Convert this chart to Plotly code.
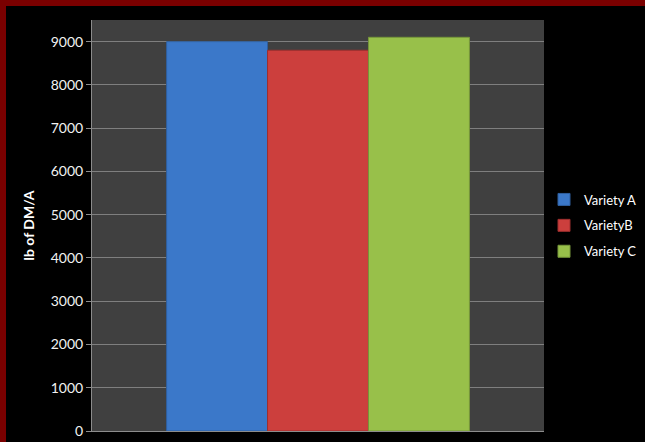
import plotly.graph_objects as go

# ---- data ----
series_names = ["Variety A", "VarietyB", "Variety C"]
series_values = [9000, 8800, 9100]
series_colors = ["#3b78c9", "#cc3f3d", "#98c04a"]
edge_colors = ["#2f5f9e", "#9e2f2e", "#76963a"]
y_ticks = [0, 1000, 2000, 3000, 4000, 5000, 6000, 7000, 8000, 9000]
y_title = "lb of DM/A"

W, H = 645, 442
ML, MR, MT, MB = 92, 101, 20, 11
PW = W - ML - MR
PH = H - MT - MB

fig = go.Figure()
for i, (name, val) in enumerate(zip(series_names, series_values)):
    fig.add_trace(go.Bar(
        x=[0], y=[val], name=name,
        legendgroup=name,
        marker=dict(color=series_colors[i], line=dict(color=edge_colors[i], width=1)),
    ))

def px_x(p):
    return (p - ML) / PW

def px_y(p):
    return (H - MB - p) / PH

red = "#7a0000"
shapes = [
    dict(type="rect", xref="paper", yref="paper",
         x0=px_x(0), x1=px_x(6), y0=px_y(H), y1=px_y(0),
         fillcolor=red, line=dict(width=0), layer="below"),
    dict(type="rect", xref="paper", yref="paper",
         x0=px_x(0), x1=px_x(W), y0=px_y(6), y1=px_y(0),
         fillcolor=red, line=dict(width=0), layer="below"),
]

fig.update_layout(
    width=W, height=H,
    margin=dict(l=ML, r=MR, t=MT, b=MB, pad=0, autoexpand=False),
    paper_bgcolor="#000000",
    plot_bgcolor="#404040",
    barmode="group", bargap=0.33, bargroupgap=0,
    font=dict(family="Lato, Open Sans, sans-serif", color="#f2f2f2", size=13),
    shapes=shapes,
    showlegend=True,
    legend=dict(x=1.0, xanchor="left", y=0.5, yanchor="middle",
                traceorder="grouped", tracegroupgap=6,
                font=dict(size=13, color="#ffffff"),
                bgcolor="rgba(0,0,0,0)", itemwidth=30),
    xaxis=dict(showticklabels=False, showgrid=False, zeroline=False,
               showline=True, linecolor="#8c8c8c", linewidth=1,
               range=[-0.5, 0.5], fixedrange=True, automargin=False),
    yaxis=dict(range=[0, 9500], tickvals=y_ticks, automargin=False,
               showgrid=True, gridcolor="#7f7f7f", gridwidth=1,
               zeroline=False, showline=True, linecolor="#8c8c8c", linewidth=1,
               ticks="outside", ticklen=5, tickcolor="#8c8c8c",
               tickfont=dict(size=14, color="#f2f2f2"),
               title=dict(text="<b>" + y_title + "</b>", standoff=12,
                          font=dict(size=14, color="#ffffff"))),
)

fig.write_html(
    "out.html",
    config=dict(displayModeBar=False),
    post_script="document.body.style.margin='0';document.body.style.overflow='hidden';",
)
